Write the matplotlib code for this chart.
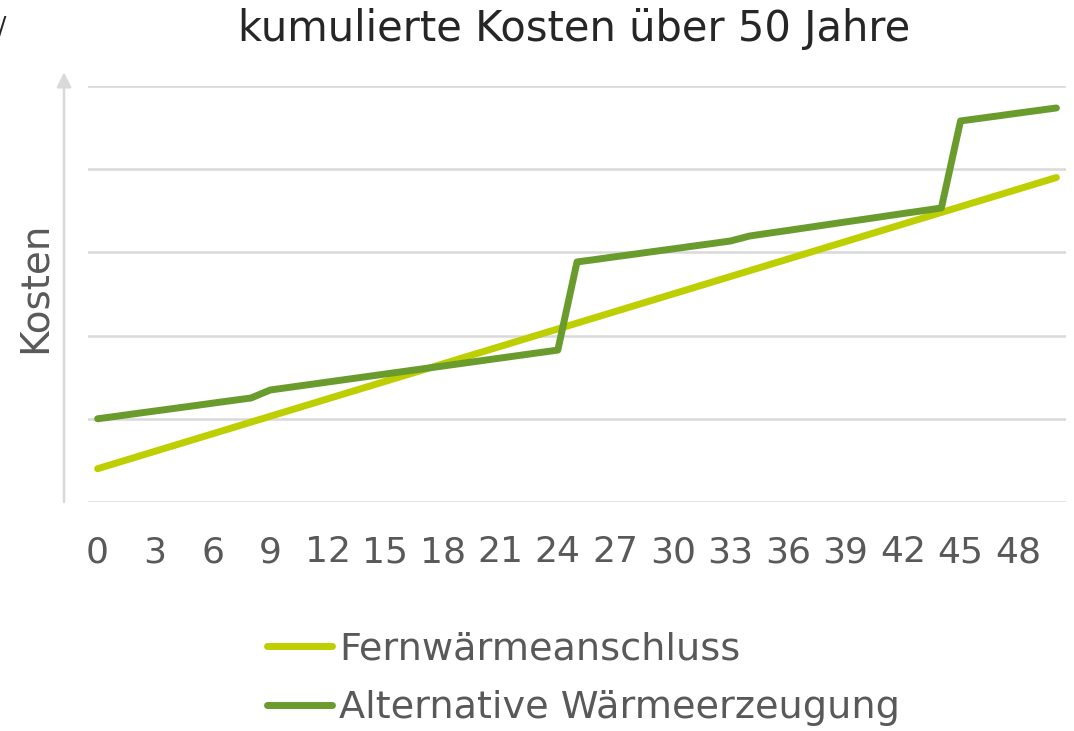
import numpy as np
import matplotlib
matplotlib.use('Agg')
import matplotlib.pyplot as plt

jahre = list(range(0, 51))

fernwaerme = [40, 47, 54, 61, 68, 75, 82, 89, 96, 103,
              110, 117, 124, 131, 138, 145, 152, 159, 166, 173,
              180, 187, 194, 201, 208, 215, 222, 229, 236, 243,
              250, 257, 264, 271, 278, 285, 292, 299, 306, 313,
              320, 327, 334, 341, 348, 355, 362, 369, 376, 383,
              390]

alternative = [100.0, 103.1, 106.3, 109.4, 112.5, 115.6, 118.8, 121.9, 125.0, 134.6,
               137.8, 141.0, 144.2, 147.4, 150.6, 153.8, 157.0, 160.2, 163.4, 166.6,
               169.8, 173.0, 176.2, 179.4, 182.6, 288.5, 291.6, 294.8, 297.9, 301.1,
               304.2, 307.4, 310.5, 313.7, 319.7, 323.1, 326.4, 329.8, 333.2, 336.6,
               339.9, 343.3, 346.7, 350.0, 353.4, 458.0, 461.1, 464.2, 467.4, 470.5,
               473.6]

x_ticks = list(range(0, 49, 3))

grau = '#595959'
gitter = '#d9d9d9'
plt.rcParams['font.family'] = ['DejaVu Sans']

fig = plt.figure(figsize=(10.74, 7.31), dpi=100)
ax = fig.add_axes([88 / 1074, 229 / 731, 978 / 1074, 416 / 731])

ax.plot(jahre, fernwaerme, color='#bdcf00', lw=5, solid_capstyle='round',
        solid_joinstyle='round', label='Fernwärmeanschluss', zorder=3)
ax.plot(jahre, alternative, color='#6a9c2d', lw=5, solid_capstyle='round',
        solid_joinstyle='round', label='Alternative Wärmeerzeugung', zorder=4)

ax.set_xlim(-0.5, 50.5)
ax.set_ylim(0, 500)
ax.set_yticks([0, 100, 200, 300, 400, 500])
ax.set_yticklabels([])
ax.set_xticks(x_ticks)
ax.set_xticklabels([str(t) for t in x_ticks])
ax.tick_params(axis='both', length=0)
ax.tick_params(axis='x', pad=24, labelsize=26, labelcolor=grau)
ax.grid(axis='y', color=gitter, lw=1.8)
ax.set_axisbelow(True)
for s in ax.spines.values():
    s.set_visible(False)

# y-Achse mit Pfeil links neben dem Plotbereich
ax.annotate('', xy=(-1.75, 1.033), xytext=(-1.75, 0),
            xycoords=ax.get_xaxis_transform(),
            arrowprops=dict(arrowstyle='-|>', color=gitter, lw=1.8,
                            mutation_scale=22, shrinkA=0, shrinkB=0),
            annotation_clip=False)

fig.text(35 / 1074, 1 - 287 / 731, 'Kosten', rotation=90, ha='center', va='center',
         fontsize=28, color=grau)
fig.text(574 / 1074, 1 - 29 / 731, 'kumulierte Kosten über 50 Jahre', ha='center',
         va='center', fontsize=30, color='#262626')
fig.text(-2 / 1074, 1 - 26 / 731, '/', ha='left', va='center', fontsize=18,
         color='#262626')

leg = fig.legend(loc='upper left', bbox_to_anchor=(252 / 1074, 1 - 616 / 731),
                 frameon=False, fontsize=27.5, handlelength=1.7, handletextpad=0.19,
                 labelspacing=0.6, borderaxespad=0)
for t in leg.get_texts():
    t.set_color(grau)

plt.savefig('out.png', dpi=100)
